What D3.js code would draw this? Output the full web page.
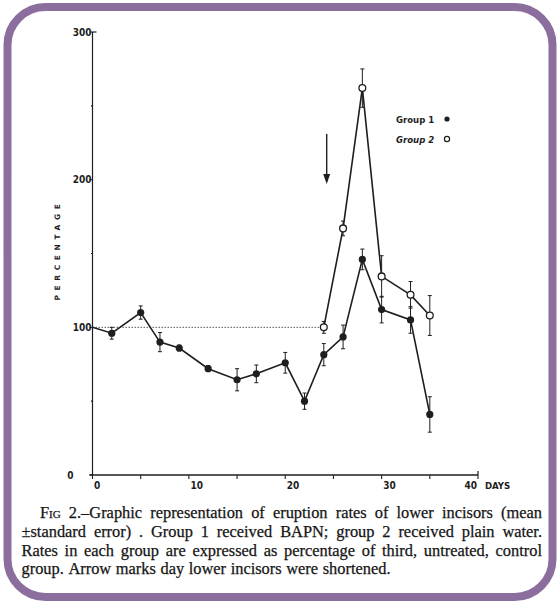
<!DOCTYPE html>
<html>
<head>
<meta charset="utf-8">
<script src="https://cdn.jsdelivr.net/npm/d3@7"></script>
<style>
  html, body { margin: 0; padding: 0; background: #fff; }
  svg { display: block; }
</style>
</head>
<body>
<svg id="chart" width="557" height="605"></svg>
<script>
// ---- data ----
const group1Days   = [0, 2, 5, 7, 9, 12, 15, 17, 20, 22, 24, 26, 28, 30, 33, 35];
const group1Values = [100, 96, 110, 90, 86, 72, 64.5, 68.5, 76, 50, 81.5, 93.5, 146, 112, 105, 41];
const group1Errors = [0, 4, 4.5, 6.5, 2, 2, 7.5, 6, 7, 5.5, 7.5, 8, 7, 9, 9, 12];
const group2Days   = [24, 26, 28, 30, 33, 35];
const group2Values = [100, 167, 262, 134.5, 122, 108];
const group2Errors = [4, 5, 13, 14, 9, 13.5];
const baselineDays   = [0, 24];
const baselineValues = [100, 100];
const xTicks = [0, 5, 10, 15, 20, 25, 30, 35, 40];
const xTickLabels = ["0", "", "10", "", "20", "", "30", "", "40"];
const yTicks = [0, 50, 100, 150, 200, 250, 300];
const yTickLabels = ["0", "", "100", "", "200", "", "300"];
const legendLabels = ["Group 1", "Group 2"];
const arrowDay = 24.3, arrowFrom = 231, arrowTo = 197;
const captionLines = [
  "Fig 2.–Graphic representation of eruption rates of lower incisors (mean",
  "±standard error) .  Group 1 received BAPN; group 2 received plain water.",
  "Rates in each group are expressed as percentage of third, untreated, control",
  "group.  Arrow marks day lower incisors were shortened."
];

// ---- drawing ----
const svg = d3.select("#chart");
const ink = "#1e1e1e";

// frame
svg.append("rect")
  .attr("x", 7.5).attr("y", 7).attr("width", 545).attr("height", 590)
  .attr("rx", 38).attr("ry", 38)
  .attr("fill", "#fff").attr("stroke", "#8b6e9d").attr("stroke-width", 8);

const x = d3.scaleLinear().domain([0, 40]).range([92.5, 478]);
const y = d3.scaleLinear().domain([0, 300]).range([475, 32]);

const axisFont = "'Liberation Sans Narrow', 'DejaVu Sans Condensed', Arial, sans-serif";

// y axis
const gy = svg.append("g");
gy.append("line").attr("x1", x(0)).attr("x2", x(0)).attr("y1", y(0)).attr("y2", y(300))
  .attr("stroke", ink).attr("stroke-width", 1.2);
gy.append("line").attr("x1", x(0)).attr("x2", x(0) + 4).attr("y1", y(300)).attr("y2", y(300))
  .attr("stroke", ink).attr("stroke-width", 1.2);
yTicks.forEach((t, i) => {
  const major = yTickLabels[i] !== "";
  gy.append("line")
    .attr("x1", x(0) - (major ? 3 : 1.5)).attr("x2", x(0))
    .attr("y1", y(t)).attr("y2", y(t))
    .attr("stroke", ink).attr("stroke-width", 1.1);
  if (major) {
    gy.append("text")
      .attr("x", t === 0 ? x(0) - 19 : x(0) - 1)
      .attr("y", y(t) + 3.5)
      .attr("text-anchor", "end")
      .attr("font-family", axisFont).attr("font-weight", "bold")
      .attr("font-size", 10).attr("fill", ink)
      .text(yTickLabels[i]);
  }
});
// y label
svg.append("text")
  .attr("transform", `translate(60,${y(151) - 2}) rotate(-90)`)
  .attr("text-anchor", "middle")
  .attr("font-family", "'DejaVu Sans', sans-serif").attr("font-weight", "bold")
  .attr("font-size", 7.5).attr("letter-spacing", 4.6).attr("fill", ink)
  .text("PERCENTAGE");

// x axis
const gx = svg.append("g");
gx.append("line").attr("x1", x(0) - 3).attr("x2", x(40)).attr("y1", y(0)).attr("y2", y(0))
  .attr("stroke", ink).attr("stroke-width", 1.3);
gx.append("line").attr("x1", x(40)).attr("x2", x(40)).attr("y1", y(0)).attr("y2", y(0) - 4)
  .attr("stroke", ink).attr("stroke-width", 1.2);
xTicks.forEach((t, i) => {
  gx.append("line").attr("x1", x(t)).attr("x2", x(t)).attr("y1", y(0)).attr("y2", y(0) + 4)
    .attr("stroke", ink).attr("stroke-width", 1.1);
  if (xTickLabels[i] !== "") {
    gx.append("text")
      .attr("x", t === 40 ? x(t) - 1 : x(t) + 1.5)
      .attr("y", y(0) + 14)
      .attr("text-anchor", t === 40 ? "end" : "start")
      .attr("font-family", axisFont).attr("font-weight", "bold")
      .attr("font-size", 10).attr("fill", ink)
      .text(xTickLabels[i]);
  }
});
gx.append("text").attr("x", x(40) + 7).attr("y", y(0) + 14)
  .attr("font-family", axisFont).attr("font-weight", "bold")
  .attr("font-size", 9.5).attr("fill", ink).text("DAYS");

// baseline dotted
const g1 = group1Days.map((d, i) => ({ d, v: group1Values[i], e: group1Errors[i] }));
const g2 = group2Days.map((d, i) => ({ d, v: group2Values[i], e: group2Errors[i] }));
const base = baselineDays.map((d, i) => ({ d, v: baselineValues[i] }));
const line = d3.line().x(p => x(p.d)).y(p => y(p.v));

svg.append("path").attr("d", line(base)).attr("fill", "none")
  .attr("stroke", "#555").attr("stroke-width", 1).attr("stroke-dasharray", "1.5,1.5");

// error bars
function errorBars(data) {
  const g = svg.append("g").attr("stroke", ink).attr("stroke-width", 1);
  data.filter(p => p.e > 0).forEach(p => {
    g.append("line").attr("x1", x(p.d)).attr("x2", x(p.d)).attr("y1", y(p.v - p.e)).attr("y2", y(p.v + p.e));
    [p.v - p.e, p.v + p.e].forEach(v => {
      g.append("line").attr("x1", x(p.d) - 2).attr("x2", x(p.d) + 2).attr("y1", y(v)).attr("y2", y(v));
    });
  });
}
errorBars(g1);
errorBars(g2);

svg.append("path").attr("d", line(g1)).attr("fill", "none").attr("stroke", ink).attr("stroke-width", 1.6);
svg.append("path").attr("d", line(g2)).attr("fill", "none").attr("stroke", ink).attr("stroke-width", 1.6);

svg.append("g").selectAll("circle").data(g1.slice(1)).join("circle")
  .attr("cx", p => x(p.d)).attr("cy", p => y(p.v)).attr("r", 3.6).attr("fill", ink);
svg.append("g").selectAll("circle").data(g2).join("circle")
  .attr("cx", p => x(p.d)).attr("cy", p => y(p.v)).attr("r", 3.4)
  .attr("fill", "#fff").attr("stroke", ink).attr("stroke-width", 1.3);

// arrow
const ax = x(arrowDay);
svg.append("line").attr("x1", ax).attr("x2", ax).attr("y1", y(arrowFrom)).attr("y2", y(arrowTo) - 8)
  .attr("stroke", ink).attr("stroke-width", 1.4);
svg.append("path")
  .attr("d", `M${ax - 3.5},${y(arrowTo) - 10} L${ax + 3.5},${y(arrowTo) - 10} L${ax},${y(arrowTo)} Z`)
  .attr("fill", ink);

// legend
legendLabels.forEach((lab, i) => {
  const ly = 119 + i * 20;
  svg.append("text").attr("x", 396).attr("y", ly + 3.5)
    .attr("font-family", axisFont).attr("font-weight", "bold").attr("font-style", i === 1 ? "italic" : "normal")
    .attr("font-size", 9.5).attr("fill", ink).text(lab);
  const c = svg.append("circle").attr("cx", 447).attr("cy", ly).attr("r", 2.6);
  if (i === 0) c.attr("fill", ink);
  else c.attr("fill", "#fff").attr("stroke", ink).attr("stroke-width", 1.2);
});

// caption
const capFont = "'Liberation Serif', 'Times New Roman', serif";
const capSize = 16.4;
const lineY = [518, 537, 555.5, 574];
captionLines.forEach((txt, li) => {
  const left = li === 0 ? 40 : 21.5;
  const right = 542;
  const words = txt.split(/\s+/);
  const t = svg.append("text").attr("y", lineY[li])
    .attr("font-family", capFont).attr("font-size", capSize).attr("fill", "#151515")
    .attr("stroke", "#151515").attr("stroke-width", 0.25);
  const spans = words.map(w => {
    const s = t.append("tspan").text(w);
    if (w === "Fig") s.style("font-variant", "small-caps");
    return s;
  });
  const widths = spans.map(s => s.node().getComputedTextLength());
  const total = d3.sum(widths);
  const justify = li < 3;
  const gap = justify ? (right - left - total) / (words.length - 1) : capSize * 0.28;
  let cx = left;
  spans.forEach((s, i) => { s.attr("x", cx); cx += widths[i] + gap; });
});
</script>
</body>
</html>
